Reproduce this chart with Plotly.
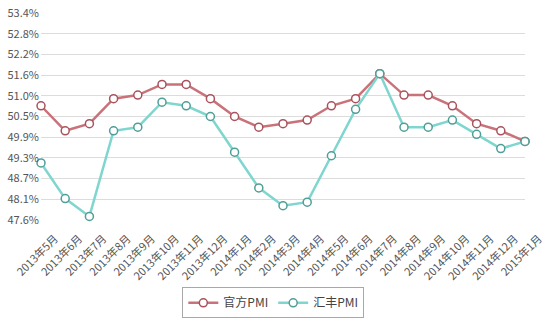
import plotly.graph_objects as go

months = ["2013年5月", "2013年6月", "2013年7月", "2013年8月", "2013年9月", "2013年10月",
          "2013年11月", "2013年12月", "2014年1月", "2014年2月", "2014年3月", "2014年4月",
          "2014年5月", "2014年6月", "2014年7月", "2014年8月", "2014年9月", "2014年10月",
          "2014年11月", "2014年12月", "2015年1月"]
official_pmi = [50.8, 50.1, 50.3, 51.0, 51.1, 51.4, 51.4, 51.0, 50.5, 50.2, 50.3, 50.4,
                50.8, 51.0, 51.7, 51.1, 51.1, 50.8, 50.3, 50.1, 49.8]
hsbc_pmi = [49.2, 48.2, 47.7, 50.1, 50.2, 50.9, 50.8, 50.5, 49.5, 48.5, 48.0, 48.1,
            49.4, 50.7, 51.7, 50.2, 50.2, 50.4, 50.0, 49.6, 49.8]
y_min, y_max = 47.6, 53.4
y_ticktext = ["47.6%", "48.1%", "48.7%", "49.3%", "49.9%", "50.5%", "51.0%",
              "51.6%", "52.2%", "52.8%", "53.4%"]

step = (y_max - y_min) / (len(y_ticktext) - 1)
y_tickvals = [y_min + i * step for i in range(len(y_ticktext))]

font = "Noto Sans CJK SC"
fig = go.Figure()
fig.add_trace(go.Scatter(
    x=months, y=official_pmi, name="官方PMI", mode="lines+markers",
    line=dict(color="#c9727a", width=2.5),
    marker=dict(size=8, color="white", line=dict(color="#a9525c", width=1.5)),
    cliponaxis=False,
))
fig.add_trace(go.Scatter(
    x=months, y=hsbc_pmi, name="汇丰PMI", mode="lines+markers",
    line=dict(color="#7fd6cf", width=2.5),
    marker=dict(size=8, color="white", line=dict(color="#4f9e98", width=1.5)),
    cliponaxis=False,
))
fig.update_layout(
    width=552, height=330,
    margin=dict(l=41, r=27, t=13, b=102),
    paper_bgcolor="white", plot_bgcolor="white",
    font=dict(family=font, color="#555555", size=11),
    showlegend=True,
    legend=dict(orientation="h", x=0.48, xanchor="center", y=-0.325, yanchor="top",
                bordercolor="#a8a8a8", borderwidth=1, font=dict(size=12, color="#444444"),
                itemwidth=30),
)
fig.update_xaxes(
    type="category", range=[0, len(months) - 1], tickangle=-45, automargin=False,
    ticklabelshift=14, ticklabelstandoff=9,
    showgrid=False, showline=False, ticks="", tickfont=dict(size=11, color="#555555"),
)
fig.update_yaxes(
    range=[y_min, y_max], tickvals=y_tickvals, ticktext=y_ticktext, automargin=False,
    ticklabelstandoff=1,
    showgrid=True, gridcolor="#dcdcdc", gridwidth=1, zeroline=False, showline=False,
    ticks="", tickfont=dict(size=11, color="#555555"),
)
fig.write_html("out.html")
